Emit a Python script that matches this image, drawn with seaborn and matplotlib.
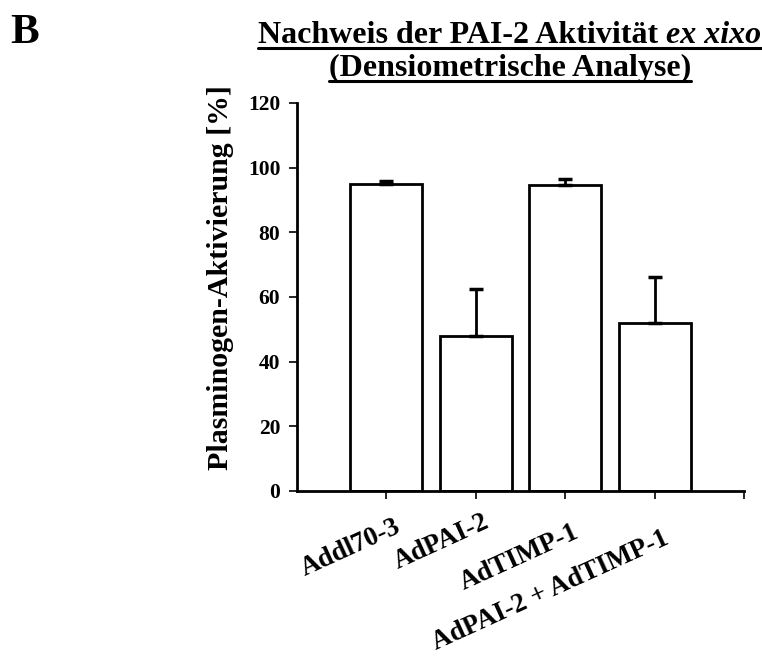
import matplotlib
matplotlib.use("Agg")
import matplotlib.pyplot as plt
import matplotlib.transforms as mtransforms
import seaborn as sns
import pandas as pd

# Data: plasminogen activation (densitometric analysis)
groups = ["Addl70-3", "AdPAI-2", "AdTIMP-1", "AdPAI-2 + AdTIMP-1"]
activation = [95.0, 48.0, 94.7, 51.9]
sem = [0.8, 14.4, 1.8, 14.3]
yticks = [0, 20, 40, 60, 80, 100, 120]

sns.set_theme(style="white")
plt.rcParams["font.family"] = ["Liberation Serif", "DejaVu Serif"]
plt.rcParams["font.weight"] = "bold"
plt.rcParams["text.color"] = "black"
plt.rcParams["axes.labelcolor"] = "black"
plt.rcParams["xtick.color"] = "black"
plt.rcParams["ytick.color"] = "black"

fig = plt.figure(figsize=(7.62, 6.61), dpi=100)
ax = fig.add_axes([0.3898, 0.2572, 0.5870, 0.5870])

df = pd.DataFrame({"group": groups, "value": activation})
sns.barplot(data=df, x="group", y="value", ax=ax, color="white",
            edgecolor="black", linewidth=2.0, width=0.805, errorbar=None,
            saturation=1)

# upward-only error bars from the bar tops
centers = [p.get_x() + p.get_width() / 2 for p in ax.patches]
ax.errorbar(centers, activation, yerr=[[0] * len(sem), sem], fmt="none",
            ecolor="black", elinewidth=2.0, capsize=5, capthick=2.5, zorder=1)

ax.set_xlim(-1, 4)
ax.set_ylim(0, 120)
ax.set_yticks(yticks)
ax.set_yticklabels([str(t) for t in yticks], fontsize=15.5, fontweight="bold")
ax.set_xticks(range(5))
ax.set_xticklabels([])

# slanted category labels, staggered below the axis
# (pixel offsets of each label's top-right corner from its tick)
label_dx = [7.5, 6.5, 6.5, 7.0]
label_dy = [23.5, 18.5, 28.5, 35.0]
xaxis_trans = mtransforms.blended_transform_factory(ax.transData, ax.transAxes)
for i, (name, dx, dy) in enumerate(zip(groups, label_dx, label_dy)):
    off = mtransforms.ScaledTranslation(dx / 100, -dy / 100, fig.dpi_scale_trans)
    ax.text(i, 0, name, transform=xaxis_trans + off, fontsize=19.5,
            fontweight="bold", rotation=24.5, rotation_mode="anchor",
            ha="right", va="top", clip_on=False)

ax.set_xlabel("")
ax.set_ylabel("Plasminogen-Aktivierung [%]", fontsize=21.5, fontweight="bold",
              labelpad=10)
ax.yaxis.label.set_y(0.55)

for side in ("top", "right"):
    ax.spines[side].set_visible(False)
for side in ("left", "bottom"):
    ax.spines[side].set_linewidth(2.0)
    ax.spines[side].set_color("black")
ax.tick_params(axis="y", direction="out", length=6, width=1.2, pad=6,
               left=True)
ax.tick_params(axis="x", direction="out", length=6, width=1.2,
               bottom=True)

# panel letter
fig.text(0.013, 0.935, "B", fontsize=31, fontweight="bold", ha="left",
         va="baseline")

# underlined two-line title, second half of first line in italics
fig.canvas.draw()
renderer = fig.canvas.get_renderer()
inv = fig.transFigure.inverted()

title_size = 23
line1_y = 1 - 43 / 661
line2_y = 1 - 76 / 661
t1a = fig.text(0, line1_y, "Nachweis der PAI-2 Aktivität ", fontsize=title_size,
               fontweight="bold", ha="left", va="baseline")
t1b = fig.text(0, line1_y, "ex xixo", fontsize=title_size, fontweight="bold",
               style="italic", ha="left", va="baseline")
ea = t1a.get_window_extent(renderer)
eb = t1b.get_window_extent(renderer)
total = ea.width + eb.width
cx = 0.669 * fig.bbox.width
x0 = cx - total / 2
t1a.set_x(inv.transform((x0, 0))[0])
t1b.set_x(inv.transform((x0 + ea.width, 0))[0])

t2 = fig.text(0.669, line2_y, "(Densiometrische Analyse)", fontsize=title_size,
              fontweight="bold", ha="center", va="baseline")
fig.canvas.draw()


def underline(x_start, x_end, y_base):
    p0 = inv.transform((x_start, y_base))
    p1 = inv.transform((x_end, y_base))
    fig.add_artist(plt.Line2D([p0[0], p1[0]], [p0[1], p1[1]],
                              transform=fig.transFigure, color="black",
                              linewidth=2.2))


ya = fig.transFigure.transform((0, line1_y))[1] - 5
underline(x0, x0 + total, ya)
e2 = t2.get_window_extent(renderer)
y2 = fig.transFigure.transform((0, line2_y))[1] - 5
underline(e2.x0, e2.x1, y2)

fig.savefig("out.png", dpi=100)
